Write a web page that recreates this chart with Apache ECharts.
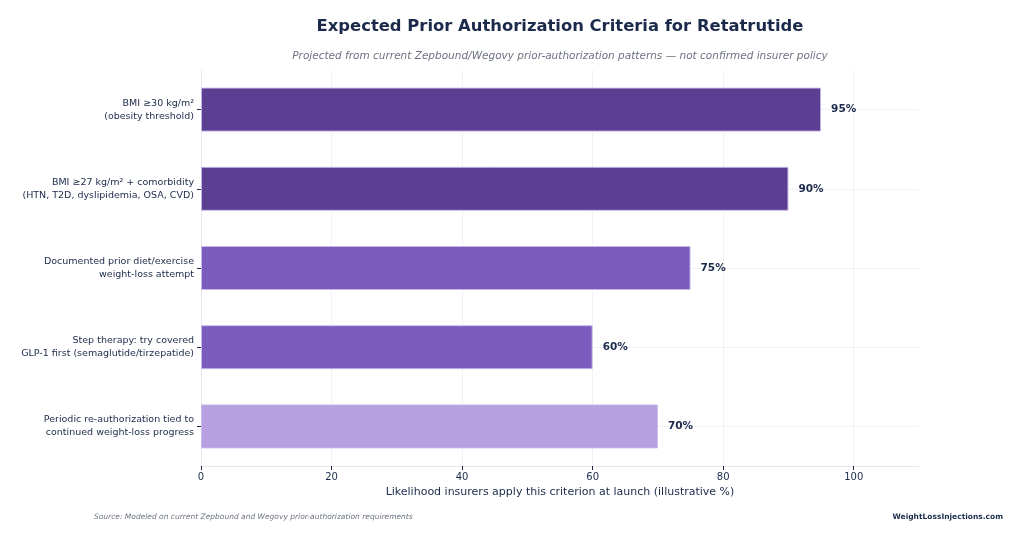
<!DOCTYPE html>
<html><head><meta charset="utf-8">
<script src="https://cdn.jsdelivr.net/npm/echarts@6/dist/echarts.min.js"></script>
<style>html,body{margin:0;padding:0;background:#fff}#c{width:1024px;height:541px}</style>
</head><body><div id="c"></div>
<script>
const categories = [
  "BMI ≥30 kg/m²\n(obesity threshold)",
  "BMI ≥27 kg/m² + comorbidity\n(HTN, T2D, dyslipidemia, OSA, CVD)",
  "Documented prior diet/exercise\nweight-loss attempt",
  "Step therapy: try covered\nGLP-1 first (semaglutide/tirzepatide)",
  "Periodic re-authorization tied to\ncontinued weight-loss progress"
];
const values = [95, 90, 75, 60, 70];
const barColors = ["#5c3f92", "#5c3f92", "#7b5bbd", "#7b5bbd", "#b6a0e0"];
const xTicks = [0, 20, 40, 60, 80, 100];

const font = "DejaVu Sans";
const chart = echarts.init(document.getElementById('c'), null, {renderer: 'canvas'});
chart.setOption({
  backgroundColor: '#ffffff',
  animation: false,
  title: [
    {text: 'Expected Prior Authorization Criteria for Retatrutide', left: 560, top: 19, textAlign: 'center', padding: 0,
     textStyle: {fontFamily: font, fontSize: 16.4, fontWeight: 'bold', color: '#1b2a4a'}},
    {text: 'Projected from current Zepbound/Wegovy prior-authorization patterns — not confirmed insurer policy', left: 560, top: 51, textAlign: 'center', padding: 0,
     textStyle: {fontFamily: font, fontSize: 10.5, fontStyle: 'italic', fontWeight: 'normal', color: '#6b7280'}},
    {text: 'Source: Modeled on current Zepbound and Wegovy prior-authorization requirements', left: 94, top: 513, padding: 0,
     textStyle: {fontFamily: font, fontSize: 7.5, fontStyle: 'italic', fontWeight: 'normal', color: '#6b7280'}},
    {text: 'WeightLossInjections.com', right: 21, top: 513, padding: 0,
     textStyle: {fontFamily: font, fontSize: 7.5, fontWeight: 'bold', color: '#1b2a4a'}}
  ],
  grid: {left: 201, right: 105, top: 70, bottom: 75, containLabel: false},
  xAxis: {
    type: 'value', min: 0, max: 110, interval: 20,
    name: 'Likelihood insurers apply this criterion at launch (illustrative %)',
    nameLocation: 'middle', nameGap: 20,
    nameTextStyle: {fontFamily: font, fontSize: 11, color: '#1b2a4a'},
    axisLine: {show: true, lineStyle: {color: '#e5e7eb'}},
    axisTick: {show: true, length: 4, customValues: xTicks, lineStyle: {color: '#1b2a4a'}},
    axisLabel: {fontFamily: font, fontSize: 10, color: '#1b2a4a', margin: 6, customValues: xTicks},
    splitLine: {show: true, lineStyle: {color: '#f1f2f5', width: 1}}
  },
  yAxis: {
    type: 'category', data: categories, inverse: true,
    axisLine: {show: true, lineStyle: {color: '#e5e7eb'}},
    axisTick: {show: true, alignWithLabel: true, length: 4, lineStyle: {color: '#1b2a4a'}},
    axisLabel: {fontFamily: font, fontSize: 9.5, color: '#1b2a4a', margin: 7, lineHeight: 13, align: 'right'},
    splitLine: {show: false}
  },
  series: [{
    type: 'bar',
    data: values.map((v, i) => ({value: v, itemStyle: {color: barColors[i]}})),
    barWidth: 44,
    itemStyle: {borderColor: 'rgba(200,185,235,0.9)', borderWidth: 1},
    label: {show: true, position: 'right', distance: 10, formatter: p => p.value + '%',
      fontFamily: font, fontSize: 10.5, fontWeight: 'bold', color: '#1b2a4a'},
    z: 3
  }, {
    type: 'line',
    data: [],
    z: 1,
    silent: true,
    markLine: {
      silent: true, symbol: 'none', label: {show: false}, z: 1,
      lineStyle: {color: '#f1f2f5', type: 'solid', width: 1},
      data: categories.map(c => ({yAxis: c}))
    }
  }]
});
</script></body></html>
